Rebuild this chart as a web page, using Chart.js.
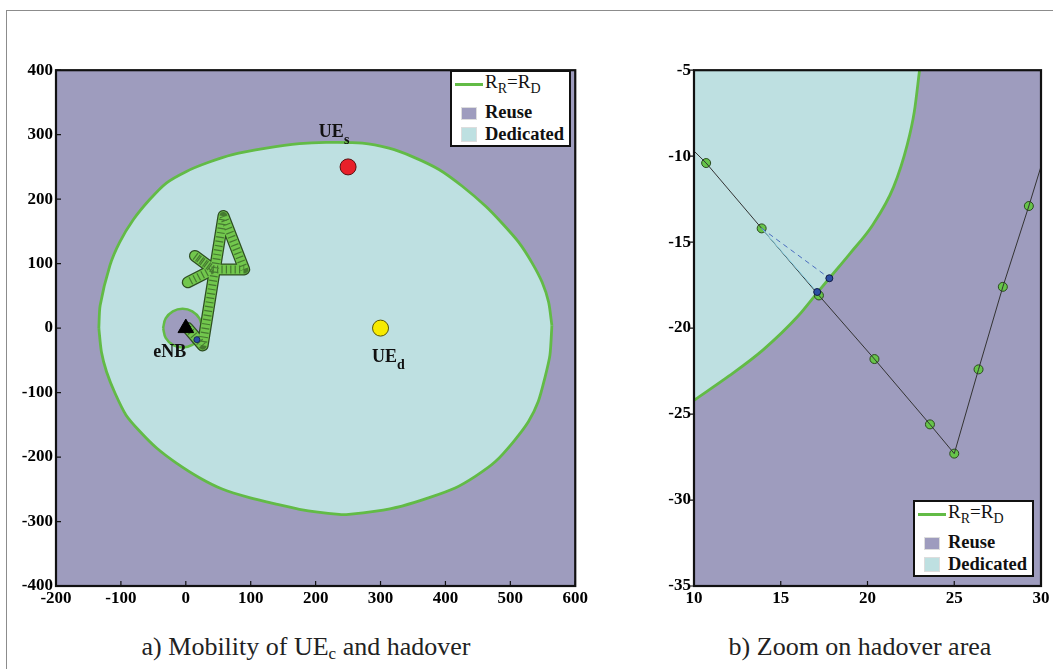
<!DOCTYPE html>
<html>
<head>
<meta charset="utf-8">
<script src="https://cdn.jsdelivr.net/npm/chart.js@4.4.1/dist/chart.umd.min.js"></script>
<style>
    body { margin: 0; width: 1053px; height: 669px; overflow: hidden; background: #fff; position: relative; font-family: "Liberation Serif", "Times New Roman", serif; }
    #frame { position: absolute; left: 6px; top: 10px; width: 1200px; height: 800px; border: 1px solid #8c8c8c; }
    .panel { position: absolute; top: 57px; height: 563px; }
    .legend { position: absolute; width: 121px; height: 77px; box-sizing: border-box; border: 2px solid #111; background: #fff; color: #111; }
    .legend div { position: absolute; white-space: nowrap; line-height: 19px; }
    .legend .txt { left: 33px; font-size: 18.5px; font-weight: bold; }
    .legend .eq { left: 33px; top: 0px; font-size: 19px; }
    .legend sub { font-size: 14px; vertical-align: -5px; line-height: 0; }
    .legend .ln { left: 3px; top: 11px; width: 28px; height: 3px; background: #62bb46; }
    .legend .sw { left: 9px; width: 16px; border: 1px solid #ddd; box-sizing: border-box; }
    .caption { position: absolute; top: 634px; font-size: 26px; line-height: 26px; color: #222; text-align: center; }
    .caption sub { font-size: 17px; vertical-align: -4px; line-height: 0; }
</style>
</head>
<body>
<div id="frame"></div>

<div class="panel" style="left:0; width:590px;"><canvas id="mapChart" width="590" height="563"></canvas></div>
<div class="panel" style="left:640px; width:413px;"><canvas id="zoomChart" width="413" height="563"></canvas></div>

<div class="legend" style="left:450px; top:70px;">
    <div class="ln"></div>
    <div class="eq">R<sub>R</sub>=R<sub>D</sub></div>
    <div class="sw" style="top:35px; height:13px; background:#9e9cbe;"></div>
    <div class="txt" style="top:31px;">Reuse</div>
    <div class="sw" style="top:55px; height:15px; background:#bee0e1;"></div>
    <div class="txt" style="top:53px;">Dedicated</div>
</div>

<div class="legend" style="left:913px; top:500px;">
    <div class="ln"></div>
    <div class="eq">R<sub>R</sub>=R<sub>D</sub></div>
    <div class="sw" style="top:35px; height:13px; background:#9e9cbe;"></div>
    <div class="txt" style="top:31px;">Reuse</div>
    <div class="sw" style="top:55px; height:15px; background:#bee0e1;"></div>
    <div class="txt" style="top:53px;">Dedicated</div>
</div>

<div class="caption" style="left:0; width:612px;">a) Mobility of UE<sub>c</sub> and hadover</div>
<div class="caption" style="left:660px; width:400px;">b) Zoom on hadover area</div>

<script>
// ---- panel a: R_R = R_D boundary, upper and lower halves
const edgeTopX = [-134, -132, -117, -102, -81, -56, -30, 1, 32, 72, 124, 175, 216, 272, 313, 349, 390, 426, 462, 487, 513, 533, 549, 559, 564];
const edgeTopY = [0, 35, 97, 133, 168, 199, 225, 243, 256, 269, 279, 286, 288, 287, 279, 266, 246, 220, 189, 163, 133, 102, 71, 40, 4];
const edgeBotX = [-134, -130, -122, -109, -92, -71, -45, -15, 21, 57, 98, 139, 175, 236, 251, 293, 333, 375, 415, 446, 477, 505, 528, 543, 553, 561, 564];
const edgeBotY = [0, -37, -68, -101, -135, -160, -186, -209, -232, -250, -263, -273, -281, -289, -289, -284, -276, -263, -248, -230, -207, -176, -145, -114, -78, -42, 4];

// small reuse ring around the eNB
const ringX = [-35, -31, -20, -5, 10, 21, 25];
const ringTopY = [0, 15, 26, 30, 26, 15, 0];
const ringBotY = [0, -15, -26, -30, -26, -15, 0];

// UE_c trajectory (turning points)
const pathX = [3, 26, 58, 90, 42, 14, 42, 3];
const pathY = [0, -27, 174, 91, 91, 112, 91, 71];

const enb = [0, 0];
const ueS = [250, 250];
const ueD = [300, 0];
const handover = [17.1, -17.9];

// ---- panel b: zoom on the handover
const zEdgeX = [10.0, 12.0, 14.0, 16.0, 17.1, 17.8, 19.0, 20.3, 21.5, 22.3, 22.7, 23.0];
const zEdgeY = [-24.2, -22.8, -21.25, -19.3, -17.95, -17.1, -15.65, -14.0, -11.8, -9.3, -7.4, -5.0];
const zTrackX = [10.7, 13.9, 17.2, 20.4, 23.6, 25.0, 26.4, 27.8, 29.3];
const zTrackY = [-10.4, -14.2, -18.1, -21.8, -25.6, -27.3, -22.4, -17.6, -12.9];
const zLineX = [10.0, 10.7, 13.9, 17.2, 20.4, 23.6, 25.0, 26.4, 27.8, 29.3, 30.0];
const zLineY = [-9.7, -10.4, -14.2, -18.1, -21.8, -25.6, -27.3, -22.4, -17.6, -12.9, -10.6];
const zDashX = [13.9, 17.8];
const zDashY = [-14.2, -17.1];
const zCyanX = [13.9, 17.1];
const zCyanY = [-14.2, -17.9];
const zBlueX = [17.8, 17.1];
const zBlueY = [-17.1, -17.9];

const PURPLE = '#9e9cbe';
const CYAN = '#bee0e1';
const GREEN = '#62bb46';
const SERIF = '"Liberation Serif", "Times New Roman", serif';
const tickFont = { family: SERIF, weight: 'bold', size: 17 };

function pts(xs, ys) {
    return xs.map((x, i) => ({ x: x, y: ys[i] }));
}

// plot background, box and the small tick marks
const frame = {
    id: 'frame',
    beforeDraw(chart) {
        const a = chart.chartArea;
        chart.ctx.save();
        chart.ctx.fillStyle = PURPLE;
        chart.ctx.fillRect(a.left, a.top, a.right - a.left, a.bottom - a.top);
        chart.ctx.restore();
    },
    afterDraw(chart, args, opts) {
        const { ctx, chartArea: a, scales } = chart;
        ctx.save();
        ctx.strokeStyle = '#111';
        ctx.lineWidth = 1.2;
        ctx.beginPath();
        scales.x.ticks.forEach(t => {
            const px = scales.x.getPixelForValue(t.value);
            ctx.moveTo(px, a.bottom);
            ctx.lineTo(px, a.bottom - 5);
        });
        scales.y.ticks.forEach(t => {
            const py = scales.y.getPixelForValue(t.value);
            ctx.moveTo(a.left, py);
            ctx.lineTo(opts.yOut ? a.left - 5 : a.left + 5, py);
        });
        ctx.stroke();
        ctx.lineWidth = 2.2;
        ctx.strokeRect(a.left, a.top, a.right - a.left, a.bottom - a.top);
        ctx.restore();
    }
};

// text labels placed in data coordinates
const notes = {
    id: 'notes',
    afterDatasetsDraw(chart, args, opts) {
        const ctx = chart.ctx;
        ctx.save();
        ctx.fillStyle = '#111';
        ctx.textBaseline = 'alphabetic';
        (opts.items || []).forEach(n => {
            const x = chart.scales.x.getPixelForValue(n.x);
            const y = chart.scales.y.getPixelForValue(n.y);
            ctx.font = 'bold 18px ' + SERIF;
            ctx.fillText(n.text, x, y);
            if (n.sub) {
                const w = ctx.measureText(n.text).width;
                ctx.font = 'bold 14px ' + SERIF;
                ctx.fillText(n.sub, x + w, y + 7);
            }
        });
        ctx.restore();
    }
};

function axes(xMin, xMax, xStep, yMin, yMax, yStep, yWidth) {
    return {
        x: {
            type: 'linear', min: xMin, max: xMax,
            ticks: { stepSize: xStep, autoSkip: false, maxRotation: 0, padding: 2, color: '#000', font: tickFont },
            grid: { display: false, drawTicks: false },
            border: { display: false },
            afterFit(s) { s.height = 34; }
        },
        y: {
            type: 'linear', min: yMin, max: yMax,
            ticks: { stepSize: yStep, autoSkip: false, padding: 3, color: '#000', font: tickFont },
            grid: { display: false, drawTicks: false },
            border: { display: false },
            afterFit(s) { s.width = yWidth; }
        }
    };
}

new Chart(document.getElementById('mapChart'), {
    type: 'line',
    data: {
        datasets: [
            { data: pts(edgeTopX, edgeTopY), fill: 1, backgroundColor: CYAN, borderColor: GREEN, borderWidth: 2.8, tension: 0.25, pointRadius: 0, order: 10 },
            { data: pts(edgeBotX, edgeBotY), fill: false, borderColor: GREEN, borderWidth: 2.8, tension: 0.25, pointRadius: 0, order: 9 },
            { data: pts(ringX, ringTopY), fill: 3, backgroundColor: PURPLE, borderColor: GREEN, borderWidth: 2.5, tension: 0.4, pointRadius: 0, order: 8 },
            { data: pts(ringX, ringBotY), fill: false, borderColor: GREEN, borderWidth: 2.5, tension: 0.4, pointRadius: 0, order: 7 },
            { data: pts(pathX, pathY), fill: false, borderColor: '#2e4f22', borderWidth: 12, borderJoinStyle: 'round', borderCapStyle: 'round', tension: 0, pointRadius: 0, order: 6 },
            { data: pts(pathX, pathY), fill: false, borderColor: '#72c74d', borderWidth: 9.5, borderJoinStyle: 'round', borderCapStyle: 'round', tension: 0, pointRadius: 0, order: 5.5 },
            { data: pts(pathX, pathY), fill: false, borderColor: 'rgba(40,70,30,0.6)', borderWidth: 8, borderDash: [1.2, 3.2], borderJoinStyle: 'round', tension: 0, pointRadius: 0, order: 5 },
            { data: [{ x: enb[0], y: enb[1] }], showLine: false, pointStyle: 'triangle', pointRadius: 9, backgroundColor: '#000', borderColor: '#000', order: 3 },
            { data: [{ x: handover[0], y: handover[1] }], showLine: false, pointRadius: 3, backgroundColor: '#2b4fa3', borderColor: '#1a2a55', borderWidth: 1, order: 2 },
            { data: [{ x: ueS[0], y: ueS[1] }], showLine: false, pointRadius: 8, backgroundColor: '#e8202a', borderColor: '#5a1010', borderWidth: 1, order: 1 },
            { data: [{ x: ueD[0], y: ueD[1] }], showLine: false, pointRadius: 8, backgroundColor: '#f7ea00', borderColor: '#5a5500', borderWidth: 1, order: 1 }
        ]
    },
    options: {
        responsive: false,
        animation: false,
        layout: { padding: { top: 10, right: 13, left: 0, bottom: 0 } },
        scales: axes(-200, 600, 100, -400, 400, 100, 56),
        plugins: {
            legend: { display: false },
            tooltip: { enabled: false },
            frame: { yOut: false },
            notes: {
                items: [
                    { x: 205, y: 296, text: 'UE', sub: 's' },
                    { x: 287, y: -52, text: 'UE', sub: 'd' },
                    { x: -50, y: -45, text: 'eNB' }
                ]
            }
        }
    },
    plugins: [frame, notes]
});

new Chart(document.getElementById('zoomChart'), {
    type: 'line',
    data: {
        datasets: [
            { data: pts(zEdgeX, zEdgeY), fill: 'end', backgroundColor: CYAN, borderColor: GREEN, borderWidth: 2.8, cubicInterpolationMode: 'monotone', pointRadius: 0, order: 10 },
            { data: pts(zTrackX, zTrackY), showLine: false, pointRadius: 4.5, backgroundColor: '#66c44a', borderColor: '#2b4a1f', borderWidth: 1, order: 6 },
            { data: pts(zLineX, zLineY), fill: false, borderColor: '#333', borderWidth: 1, tension: 0, pointRadius: 0, order: 5 },
            { data: pts(zDashX, zDashY), fill: false, borderColor: '#4a6cc0', borderWidth: 1, borderDash: [5, 4], pointRadius: 0, order: 4 },
            { data: pts(zCyanX, zCyanY), fill: false, borderColor: '#8ad4e6', borderWidth: 1, pointRadius: 0, order: 4 },
            { data: pts(zBlueX, zBlueY), showLine: false, pointRadius: 3.5, backgroundColor: '#2b4fa3', borderColor: '#111a44', borderWidth: 1, order: 1 }
        ]
    },
    options: {
        responsive: false,
        animation: false,
        layout: { padding: { top: 10, right: 12, left: 0, bottom: 0 } },
        scales: axes(10, 30, 5, -35, -5, 5, 54),
        plugins: {
            legend: { display: false },
            tooltip: { enabled: false },
            frame: { yOut: true }
        }
    },
    plugins: [frame]
});
</script>
</body>
</html>
